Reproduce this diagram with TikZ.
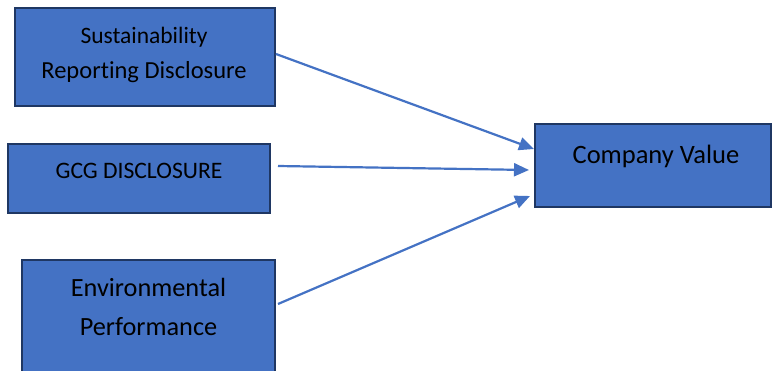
\documentclass[tikz,border=0pt]{standalone}
\usepackage{fontspec}
\setmainfont{Carlito}[Ligatures={NoCommon,NoRare,NoContextual}]
\usetikzlibrary{arrows.meta,calc}
\definecolor{boxfill}{HTML}{4472C4}
\definecolor{boxline}{HTML}{1F3763}
\definecolor{arrowc}{HTML}{4472C4}
\begin{document}
\begin{tikzpicture}[x=1pt,y=-1pt,
  box/.style={draw=boxline,fill=boxfill,line width=2pt,rectangle,inner sep=0pt},
  lbl/.style={text=black,anchor=base,inner sep=0pt,align=center},
  conn/.style={draw=arrowc,line width=2.2pt,-{Triangle[length=15pt,width=13pt]}}]
\useasboundingbox (0,0) rectangle (772,370);
\fill[white] (0,0) rectangle (772,370);
\node[box,minimum width=260pt,minimum height=98pt] (b1) at (145,57) {};
\node[box,minimum width=262pt,minimum height=69pt] (b2) at (139,178.5) {};
\node[box,minimum width=253pt,minimum height=120pt] (b3) at (148.5,320) {};
\node[box,minimum width=236pt,minimum height=83pt] (b4) at (653,165.5) {};
\node[lbl,font=\fontsize{23.5}{35}\selectfont] (t1a) at (144,43) {Sustainability};
\node[lbl,font=\fontsize{24.5}{35}\selectfont] (t1b) at (144,78) {Reporting Disclosure};
\node[lbl,font=\fontsize{23.6}{28}\selectfont] (t2) at (139,178) {GCG DISCLOSURE};
\node[lbl,font=\fontsize{26.3}{39}\selectfont] (t3a) at (148.5,296) {Environmental};
\node[lbl,font=\fontsize{26.3}{39}\selectfont] (t3b) at (148.5,335) {Performance};
\node[lbl,font=\fontsize{26.5}{32}\selectfont] (t4) at (656,163) {Company Value};
\draw[conn] ($(b1.east)+(0,-3)$) -- ($(b4.west)+(0,-16.5)$);
\draw[conn] ($(b2.east)+(7,-12.5)$) -- ($(b4.west)+(-5,4.5)$);
\draw[conn] ($(b3.east)+(2,-16)$) -- ($(b4.west)+(-4,30.5)$);
\end{tikzpicture}
\end{document}
